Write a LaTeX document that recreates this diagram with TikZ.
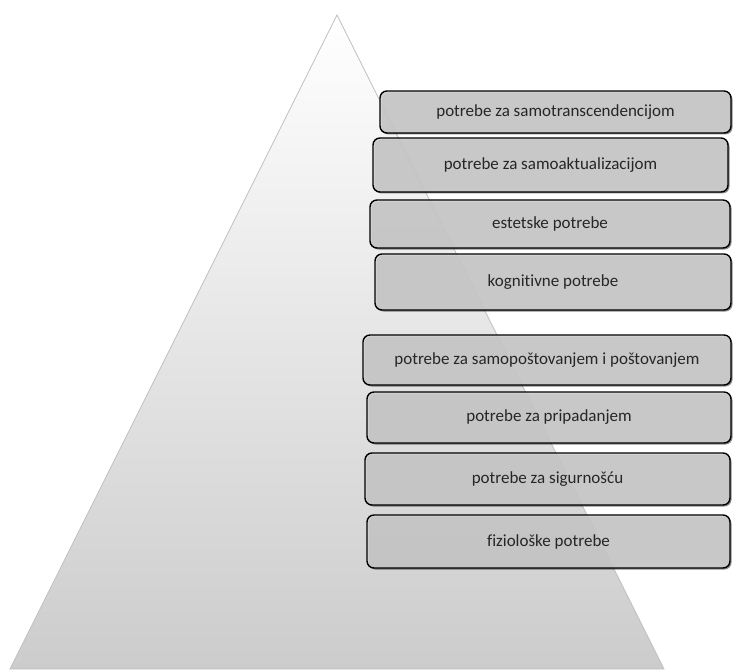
\documentclass[tikz,border=0pt]{standalone}
\usepackage{fontspec}
\setmainfont{Carlito}[Ligatures=NoCommon]
\usetikzlibrary{shadows}
\definecolor{boxfill}{HTML}{D3D3D3}
\definecolor{txt}{HTML}{262626}
\tikzset{
  lvl/.style={draw=black, line width=1.4pt, rounded corners=7pt, fill=boxfill, fill opacity=0.85, text opacity=1,
    drop shadow={shadow xshift=1.5pt, shadow yshift=-1.5pt, opacity=0.45, fill=black}},
  lvltext/.style={text=txt, font=\fontsize{17}{19}\selectfont, inner sep=0pt}
}
\begin{document}
\begin{tikzpicture}[x=1pt,y=-1pt]
\useasboundingbox (0,0) rectangle (733,671);
% pyramid
\shade[top color=white, bottom color=black!20, draw=black!25, line width=0.8pt]
  (337,15) -- (664,669) -- (10,669) -- cycle;
% boxes
\newcommand{\lvlbox}[6]{%
  \path[lvl] (#2,#3) rectangle (#4,#5);
  \node[lvltext] (#1) at ({(#2+#4)/2},{(#3+#5)/2}) {#6};
}
\lvlbox{b1}{380}{91}{731}{133}{potrebe za samotranscendencijom}
\lvlbox{b2}{373}{138}{728}{192}{potrebe za samoaktualizacijom}
\lvlbox{b3}{370}{200}{730}{248}{estetske potrebe}
\lvlbox{b4}{375}{254}{731}{310}{kognitivne potrebe}
\lvlbox{b5}{363}{335}{731}{385}{potrebe za samopoštovanjem i poštovanjem}
\lvlbox{b6}{367}{392}{731}{443}{potrebe za pripadanjem}
\lvlbox{b7}{365}{453}{730}{505}{potrebe za sigurnošću}
\lvlbox{b8}{367}{515}{730}{568}{fiziološke potrebe}
\end{tikzpicture}
\end{document}
